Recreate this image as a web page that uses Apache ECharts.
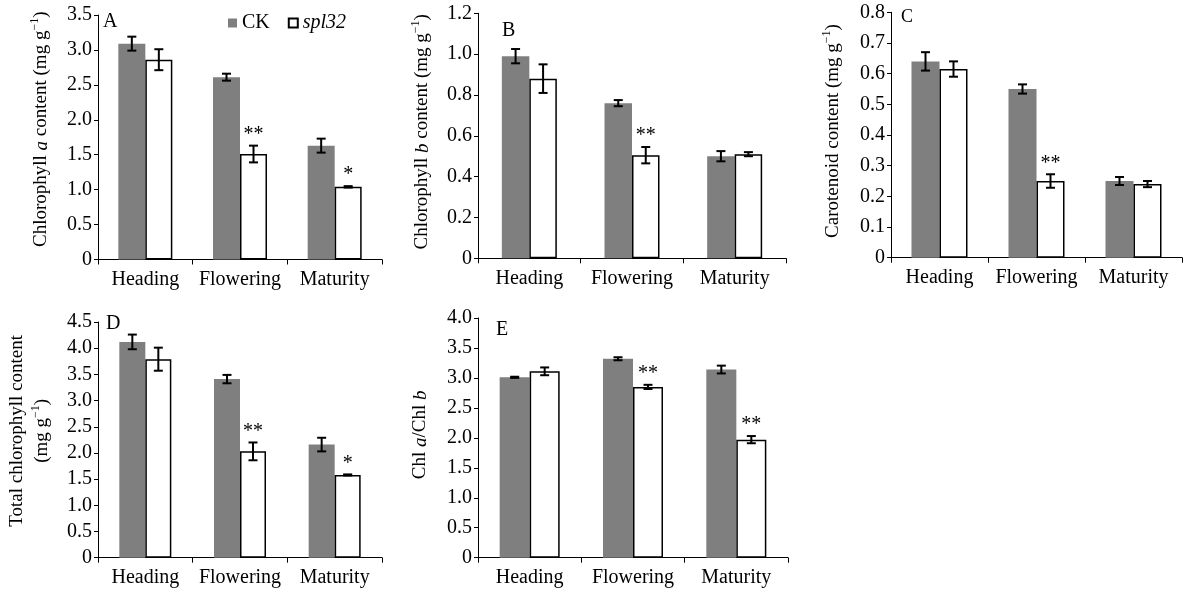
<!DOCTYPE html>
<html>
<head>
  <meta charset="utf-8" />
  <title>Pigment content</title>
  <script src="https://cdn.jsdelivr.net/npm/echarts@6/dist/echarts.min.js"></script>
  <style>
    body { margin: 0; background: #fff; }
    #main { width: 1183px; height: 592px; }
  </style>
</head>
<body>
<div id="main"></div>
<script>
  // data
  let categories = ['Heading', 'Flowering', 'Maturity']

  let chlA_ck = [3.09, 2.61, 1.63]
  let chlA_ckErr = [0.10, 0.05, 0.10]
  let chlA_spl = [2.86, 1.51, 1.04]
  let chlA_splErr = [0.15, 0.12, 0.01]
  let chlA_sig = ['', '**', '*']

  let chlB_ck = [0.99, 0.76, 0.50]
  let chlB_ckErr = [0.035, 0.015, 0.025]
  let chlB_spl = [0.88, 0.505, 0.51]
  let chlB_splErr = [0.07, 0.04, 0.01]
  let chlB_sig = ['', '**', '']

  let car_ck = [0.64, 0.55, 0.25]
  let car_ckErr = [0.03, 0.015, 0.013]
  let car_spl = [0.615, 0.25, 0.24]
  let car_splErr = [0.025, 0.022, 0.01]
  let car_sig = ['', '**', '']

  let tot_ck = [4.12, 3.41, 2.16]
  let tot_ckErr = [0.14, 0.08, 0.13]
  let tot_spl = [3.79, 2.03, 1.58]
  let tot_splErr = [0.22, 0.17, 0.01]
  let tot_sig = ['', '**', '*']

  let ratio_ck = [3.01, 3.32, 3.14]
  let ratio_ckErr = [0.01, 0.025, 0.065]
  let ratio_spl = [3.11, 2.85, 1.97]
  let ratio_splErr = [0.065, 0.035, 0.06]
  let ratio_sig = ['', '**', '**']

  let fontFamily = '"Liberation Serif", "Times New Roman", serif'
  let colorCK = '#7f7f7f'

  // layout per panel (name shift moves the rotated axis name up)
  let panels = [
    { letter: 'A', letterPos: [103, 12], letterSize: 20, grid: { left: 98, top: 15, width: 284, height: 244.5 },
      max: 3.5, interval: 0.5, barWidth: 27, nameGap: 44, nameShift: 16,
      name: 'Chlorophyll {i|a} content (mg g{sup|−1})',
      ck: chlA_ck, ckErr: chlA_ckErr, spl: chlA_spl, splErr: chlA_splErr, sig: chlA_sig },
    { letter: 'B', letterPos: [502, 21], letterSize: 20, grid: { left: 478, top: 13.3, width: 308, height: 245 },
      max: 1.2, interval: 0.2, barWidth: 27.5, nameGap: 43, nameShift: 8,
      name: 'Chlorophyll {i|b} content (mg g{sup|−1})',
      ck: chlB_ck, ckErr: chlB_ckErr, spl: chlB_spl, splErr: chlB_splErr, sig: chlB_sig },
    { letter: 'C', letterPos: [901, 8], letterSize: 18, grid: { left: 891, top: 12.3, width: 291, height: 245.4 },
      max: 0.8, interval: 0.1, barWidth: 28, nameGap: 45, nameShift: 8,
      name: 'Carotenoid content (mg g{sup|−1})',
      ck: car_ck, ckErr: car_ckErr, spl: car_spl, splErr: car_splErr, sig: car_sig },
    { letter: 'D', letterPos: [106, 314], letterSize: 20, grid: { left: 98, top: 322, width: 284, height: 235.7 },
      max: 4.5, interval: 0.5, barWidth: 26, nameGap: 43, nameShift: 18,
      name: 'Total chlorophyll content\n(mg g{sup|−1})',
      ck: tot_ck, ckErr: tot_ckErr, spl: tot_spl, splErr: tot_splErr, sig: tot_sig },
    { letter: 'E', letterPos: [496, 320], letterSize: 20, grid: { left: 478, top: 318, width: 310, height: 239.7 },
      max: 4.0, interval: 0.5, barWidth: 30, nameGap: 45, nameShift: 6,
      name: 'Chl {i|a}/Chl {i|b}',
      ck: ratio_ck, ckErr: ratio_ckErr, spl: ratio_spl, splErr: ratio_splErr, sig: ratio_sig },
  ]

  function errorBars(idx, vals, errs, sig, offset) {
    return {
      type: 'custom',
      xAxisIndex: idx,
      yAxisIndex: idx,
      z: 5,
      silent: true,
      data: vals.map((v, i) => [i, v, errs[i]]),
      renderItem: function (params, api) {
        let i = api.value(0)
        let v = api.value(1)
        let e = api.value(2)
        let c = api.coord([i, v])
        let x = c[0] + offset
        let yTop = api.coord([i, v + e])[1]
        let yBot = api.coord([i, v - e])[1]
        let ls = { stroke: '#000', lineWidth: 2 }
        let children = [
          { type: 'line', shape: { x1: x, y1: yTop, x2: x, y2: yBot }, style: ls },
          { type: 'line', shape: { x1: x - 4.5, y1: yTop, x2: x + 4.5, y2: yTop }, style: ls },
          { type: 'line', shape: { x1: x - 4.5, y1: yBot, x2: x + 4.5, y2: yBot }, style: ls },
        ]
        if (sig && sig[i]) {
          children.push({
            type: 'text',
            x: x,
            y: yTop - 1,
            style: {
              text: sig[i],
              fontSize: 20,
              fontFamily: fontFamily,
              fill: '#000',
              align: 'center',
              verticalAlign: 'bottom',
            }
          })
        }
        return { type: 'group', children: children }
      }
    }
  }

  let grids = []
  let xAxes = []
  let yAxes = []
  let series = []
  let titles = []

  panels.forEach((p, idx) => {
    grids.push(Object.assign({ outerBoundsMode: 'none', containLabel: false }, p.grid))

    xAxes.push({
      type: 'category',
      gridIndex: idx,
      data: categories,
      axisLine: { lineStyle: { color: '#000', width: 1 } },
      axisTick: { show: true, length: 5, lineStyle: { color: '#000' } },
      axisLabel: { interval: 0, margin: 10, color: '#000', fontSize: 20, fontFamily: fontFamily },
      splitLine: { show: false },
    })

    yAxes.push({
      type: 'value',
      gridIndex: idx,
      min: 0,
      max: p.max,
      interval: p.interval,
      name: p.name,
      nameLocation: 'middle',
      nameGap: p.nameGap,
      nameRotate: 90,
      nameTextStyle: {
        color: '#000',
        fontSize: 19,
        fontFamily: fontFamily,
        lineHeight: 25,
        padding: [0, 0, 0, p.nameShift],
        rich: {
          i: { fontSize: 19, fontStyle: 'italic', fontFamily: fontFamily, color: '#000' },
          sup: { fontSize: 12, fontFamily: fontFamily, color: '#000', verticalAlign: 'top', lineHeight: 12 },
        }
      },
      axisLine: { show: true, lineStyle: { color: '#000', width: 1 } },
      axisTick: { show: true, length: 4, lineStyle: { color: '#000' } },
      axisLabel: {
        margin: 6,
        color: '#000',
        fontSize: 20,
        fontFamily: fontFamily,
        formatter: (v) => v === 0 ? '0' : v.toFixed(1),
      },
      splitLine: { show: false },
    })

    series.push({
      name: 'CK',
      type: 'bar',
      xAxisIndex: idx,
      yAxisIndex: idx,
      data: p.ck,
      barWidth: p.barWidth,
      barGap: '0%',
      itemStyle: { color: colorCK },
      emphasis: { disabled: true },
    })
    series.push({
      name: 'spl32',
      type: 'bar',
      xAxisIndex: idx,
      yAxisIndex: idx,
      data: p.spl,
      barWidth: p.barWidth,
      barGap: '0%',
      itemStyle: { color: '#fff', borderColor: '#000', borderWidth: 1.5 },
      emphasis: { disabled: true },
    })
    series.push(errorBars(idx, p.ck, p.ckErr, null, -p.barWidth / 2))
    series.push(errorBars(idx, p.spl, p.splErr, p.sig, p.barWidth / 2))

    titles.push({
      text: p.letter,
      left: p.letterPos[0],
      top: p.letterPos[1],
      padding: 0,
      textStyle: { color: '#000', fontSize: p.letterSize, fontWeight: 'normal', fontFamily: fontFamily },
    })
  })

  let chart = echarts.init(document.getElementById('main'), null, { renderer: 'canvas' })

  chart.setOption({
    animation: false,
    backgroundColor: '#fff',
    title: titles,
    legend: {
      left: 223,
      top: 8,
      itemWidth: 9,
      itemHeight: 9,
      itemGap: 18,
      icon: 'rect',
      data: ['CK', 'spl32'],
      textStyle: {
        color: '#000',
        fontSize: 20,
        fontFamily: fontFamily,
        rich: { it: { fontStyle: 'italic', fontSize: 20, fontFamily: fontFamily, color: '#000' } }
      },
      formatter: (name) => name === 'spl32' ? '{it|spl32}' : name,
      selectedMode: false,
    },
    grid: grids,
    xAxis: xAxes,
    yAxis: yAxes,
    series: series,
  })
</script>
</body>
</html>
